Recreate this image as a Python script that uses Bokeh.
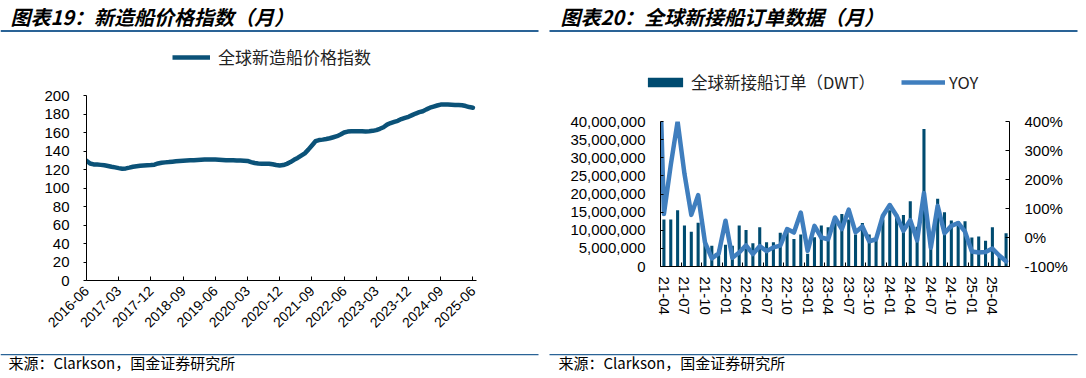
import math
import numpy as np
from bokeh.plotting import figure
from bokeh.models import (Range1d, LinearAxis, FixedTicker, NumeralTickFormatter,
                          PrintfTickFormatter, Legend, LegendItem, Label, BoxAnnotation)
from bokeh.layouts import row, column
from bokeh.embed import file_html
from bokeh.resources import INLINE

# ---------------- data ----------------
# Chart 19: newbuilding price index, monthly from 2016-06 to 2025-06
PRICE_INDEX = [
    129.5, 126.5, 125.5, 125.3, 125.0, 124.5, 123.8,                      # 2016-06..12
    123.0, 122.3, 121.5, 120.8, 121.2, 122.0, 123.0, 123.5, 124.0, 124.3, 124.6, 124.8,  # 2017
    125.2, 126.5, 127.3, 127.7, 128.0, 128.4, 128.8, 129.2, 129.5, 129.7, 129.9, 130.1,  # 2018
    130.3, 130.5, 130.7, 130.8, 130.8, 130.7, 130.5, 130.3, 130.1, 130.0, 129.9, 129.7,  # 2019
    129.6, 129.5, 129.3, 128.0, 127.0, 126.5, 126.2, 126.2, 126.3, 125.6, 124.8, 124.3,  # 2020
    124.8, 126.1, 128.0, 130.5, 132.5, 135.0, 137.5, 141.5, 146.0, 150.6, 151.8, 152.3,  # 2021
    153.0, 153.8, 154.9, 156.0, 157.8, 160.0, 161.0, 161.3, 161.4, 161.4, 161.3, 161.2,  # 2022
    161.4, 161.8, 162.6, 164.0, 165.7, 168.5, 170.2, 171.5, 172.6, 174.5, 175.8, 177.0,  # 2023
    178.8, 180.5, 182.0, 183.0, 185.0, 186.8, 188.0, 189.2, 190.2, 190.3, 190.2, 190.0,  # 2024
    189.8, 189.7, 189.4, 188.6, 187.5, 186.8,                                          # 2025-01..06
]
PRICE_TICK_STEP = 9
PRICE_TICK_LABELS = ["2016-06", "2017-03", "2017-12", "2018-09", "2019-06", "2020-03",
                     "2020-12", "2021-09", "2022-06", "2023-03", "2023-12", "2024-09", "2025-06"]
PRICE_LEGEND = "全球新造船价格指数"

# Chart 20: global new ship orders (DWT), monthly from 21-04 to 25-06
ORDERS_DWT = [
    13000000, 13000000, 15500000, 11300000, 9600000, 12100000, 7100000, 5700000, 4600000, 6000000,
    5700000, 11300000, 10100000, 6400000, 10800000, 6700000, 6700000, 9300000, 10600000, 7600000,
    8800000, 3500000, 8100000, 11300000, 10800000, 12000000, 14500000, 13000000, 8800000, 12000000,
    8800000, 7600000, 13000000, 15500000, 14400000, 14200000, 18000000, 11000000, 37900000, 5000000,
    18700000, 15000000, 12700000, 12500000, 12500000, 8000000, 8300000, 7100000, 10800000, 3400000,
    9200000,
]
# YOY (%) monthly from 21-03 (one month before the first bar) to 25-06
YOY_PCT = [
    900, 81, 250, 400, 220, 78, 146, -17, -72, -55,
    58, -70, -52, -27, -57, -30, -47, -34, -28, 29,
    17, 86, -46, 40, 0, -6, 69, 29, 96, 18,
    38, -13, -6, 75, 112, 75, 23, 60, -10, 153,
    -35, 109, 15, 40, 50, 20, -48, -52, -50, -38,
    -62, -82,
]
ORDER_TICK_STEP = 3
ORDER_TICK_LABELS = ["21-04", "21-07", "21-10", "22-01", "22-04", "22-07", "22-10", "23-01",
                     "23-04", "23-07", "23-10", "24-01", "24-04", "24-07", "24-10", "25-01", "25-04"]
ORDER_LEGEND = "全球新接船订单（DWT）"
YOY_LEGEND = "YOY"

TITLE_LEFT = "图表19：新造船价格指数（月）"
TITLE_RIGHT = "图表20：全球新接船订单数据（月）"
SOURCE = "来源：Clarkson，国金证券研究所"

# ---------------- style ----------------
CJK = "Noto Sans CJK SC"
LAT = "Liberation Sans"
PRICE_COLOR = "#0B5278"
BAR_COLOR = "#004B70"
YOY_COLOR = "#3F7EBE"
RULE_COLOR = "#2A6396"

LEFT_W, RIGHT_W = 545, 536
LEFT_TOP_H, RIGHT_TOP_H = 83, 109
FOOT_H = 27
NO_POINT = np.array([np.nan])   # legend proxies carry no visible data


def clean(p):
    p.outline_line_color = None
    p.grid.visible = False
    p.background_fill_color = "white"
    p.border_fill_color = "white"
    return p


def deco_fig(width, height):
    p = figure(width=width, height=height, output_backend="svg", toolbar_location=None,
               tools="", min_border=0, x_axis_type=None, y_axis_type=None,
               x_range=Range1d(0, width), y_range=Range1d(height, 0), frame_align=False)
    p.title.visible = False
    return clean(p)


def chart_fig(**kw):
    p = figure(output_backend="svg", toolbar_location=None, tools="", frame_align=False, **kw)
    p.title.visible = False
    return clean(p)


def style_axis(ax, size="15px"):
    ax.axis_line_color = "black"
    ax.axis_line_width = 1
    ax.major_tick_line_color = "black"
    ax.minor_tick_line_color = "black"
    ax.major_label_text_font = LAT
    ax.major_label_text_font_size = size
    ax.major_label_text_color = "black"


def header(width, height, title, text_x, rule_x0, rule_x1):
    p = deco_fig(width, height)
    p.add_layout(Label(x=text_x, y=16, text=title, text_font=CJK, text_font_size="20px",
                       text_font_style="bold italic", text_color="black",
                       text_baseline="middle", text_align="left"))
    p.add_layout(BoxAnnotation(left=rule_x0, right=rule_x1, top=29.5, bottom=31.5,
                               fill_color=RULE_COLOR, fill_alpha=1, line_color=None))
    return p


def footer(width, text_x, rule_x0, rule_x1):
    p = deco_fig(width, FOOT_H)
    p.add_layout(BoxAnnotation(left=rule_x0, right=rule_x1, top=3.5, bottom=4.8,
                               fill_color=RULE_COLOR, fill_alpha=1, line_color=None))
    p.add_layout(Label(x=text_x, y=12, text=SOURCE, text_font=CJK, text_font_size="15px",
                       text_color="black", text_baseline="middle", text_align="left"))
    return p


# ---------------- left chart ----------------
months = list(range(len(PRICE_INDEX)))
p1 = chart_fig(frame_width=390, frame_height=185, min_border_left=86, min_border_right=69,
               min_border_top=12, min_border_bottom=70,
               x_range=Range1d(0, 109.0), y_range=Range1d(0, 200))
r_price = p1.line(months, PRICE_INDEX, line_color=PRICE_COLOR, line_width=4.5,
                  line_join="round", line_cap="round")

xa = p1.xaxis[0]
style_axis(xa, "14px")
ticks = [i * PRICE_TICK_STEP for i in range(len(PRICE_TICK_LABELS))]
xa.ticker = FixedTicker(ticks=ticks)
xa.major_label_overrides = {t: lab for t, lab in zip(ticks, PRICE_TICK_LABELS)}
xa.major_label_orientation = math.pi / 4
xa.major_tick_in = 4
xa.major_tick_out = 0
xa.minor_tick_in = 0
xa.minor_tick_out = 0
xa.major_label_standoff = 8

ya = p1.yaxis[0]
style_axis(ya, "15px")
ya.ticker = FixedTicker(ticks=list(range(0, 201, 20)))
ya.major_tick_in = 0
ya.major_tick_out = 3
ya.minor_tick_in = 0
ya.minor_tick_out = 0
ya.major_label_standoff = 14

top1 = header(LEFT_W, LEFT_TOP_H, TITLE_LEFT, 10, 0, 538)
proxy_price = top1.line(x=NO_POINT, y=NO_POINT, line_color=PRICE_COLOR, line_width=4.5)
top1.add_layout(Legend(items=[LegendItem(label=PRICE_LEGEND, renderers=[proxy_price])],
                       location=(172, 14), orientation="horizontal", glyph_width=38,
                       glyph_height=20, label_height=20, label_standoff=8, padding=0, margin=0,
                       border_line_color=None, background_fill_alpha=0, label_text_font=CJK,
                       label_text_font_size="17px", label_text_color="#222222"))
foot1 = footer(LEFT_W, 8, 0, 538)

# ---------------- right chart ----------------
idx = list(range(len(ORDERS_DWT)))
idx_yoy = [i - 1 for i in range(len(YOY_PCT))]
p2 = chart_fig(frame_width=349, frame_height=145, min_border_left=115, min_border_right=72,
               min_border_top=12, min_border_bottom=84,
               x_range=Range1d(-0.5, len(ORDERS_DWT) - 0.5), y_range=Range1d(0, 40000000))
p2.extra_y_ranges = {"yoy": Range1d(-100, 400)}
r_bar = p2.vbar(x=idx, top=ORDERS_DWT, width=0.45, fill_color=BAR_COLOR, line_color=None)
r_yoy = p2.line(idx_yoy, YOY_PCT, y_range_name="yoy", line_color=YOY_COLOR, line_width=4.5,
                line_join="round", line_cap="round")

xb = p2.xaxis[0]
style_axis(xb, "15px")
lab_ticks = [i * ORDER_TICK_STEP for i in range(len(ORDER_TICK_LABELS))]
minor = [-0.5 + ORDER_TICK_STEP * j for j in range(len(ORDERS_DWT) // ORDER_TICK_STEP + 1)]
xb.ticker = FixedTicker(ticks=lab_ticks, minor_ticks=minor)
xb.major_label_overrides = {t: lab for t, lab in zip(lab_ticks, ORDER_TICK_LABELS)}
xb.major_label_orientation = "vertical"
xb.major_tick_in = 0
xb.major_tick_out = 0
xb.minor_tick_in = 4
xb.minor_tick_out = 0
xb.major_label_standoff = 10

yb = p2.yaxis[0]
style_axis(yb, "15px")
yb.ticker = FixedTicker(ticks=list(range(0, 40000001, 5000000)))
yb.formatter = NumeralTickFormatter(format="0,0")
yb.major_tick_in = 3
yb.major_tick_out = 0
yb.minor_tick_in = 0
yb.minor_tick_out = 0
yb.major_label_standoff = 15

yr = LinearAxis(y_range_name="yoy", ticker=FixedTicker(ticks=list(range(-100, 401, 100))),
                formatter=PrintfTickFormatter(format="%d%%"))
style_axis(yr, "15px")
yr.major_tick_in = 4
yr.major_tick_out = 0
yr.minor_tick_in = 0
yr.minor_tick_out = 0
yr.major_label_standoff = 15
p2.add_layout(yr, "right")

top2 = header(RIGHT_W, RIGHT_TOP_H, TITLE_RIGHT, 15, 4, 532)
proxy_bar = top2.vbar(x=NO_POINT, top=NO_POINT, width=0.45, fill_color=BAR_COLOR,
                      line_color=None)
proxy_yoy = top2.line(x=NO_POINT, y=NO_POINT, line_color=YOY_COLOR, line_width=4.5)
top2.add_layout(Legend(items=[LegendItem(label=ORDER_LEGEND, renderers=[proxy_bar]),
                              LegendItem(label=YOY_LEGEND, renderers=[proxy_yoy])],
                       location=(98, 15), orientation="horizontal", glyph_width=44,
                       glyph_height=12, label_height=20, label_standoff=4, spacing=26,
                       padding=0, margin=0, border_line_color=None, background_fill_alpha=0,
                       label_text_font=CJK, label_text_font_size="16.5px",
                       label_text_color="#222222"))
foot2 = footer(RIGHT_W, 13, 4, 532)

# ---------------- page layout ----------------
layout = row(column(top1, p1, foot1), column(top2, p2, foot2))
open("out.html", "w").write(file_html(layout, INLINE))
